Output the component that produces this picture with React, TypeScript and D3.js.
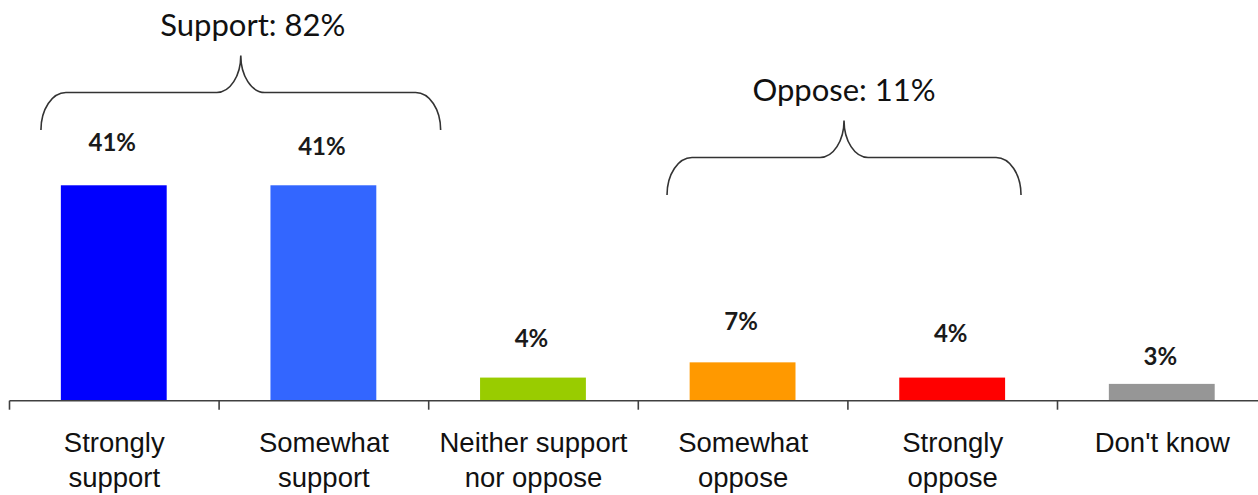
import React from "react";
import * as d3 from "d3";

const categoryLines: string[][] = [
  ["Strongly", "support"],
  ["Somewhat", "support"],
  ["Neither support", "nor oppose"],
  ["Somewhat", "oppose"],
  ["Strongly", "oppose"],
  ["Don't know"],
];
const categories = ["Strongly support", "Somewhat support", "Neither support nor oppose", "Somewhat oppose", "Strongly oppose", "Don't know"];
const values = [41, 41, 4.4, 7.3, 4.4, 3.2];
const valueLabels = ["41%", "41%", "4%", "7%", "4%", "3%"];
const barColors = ["#0000FF", "#3366FF", "#99CC00", "#FF9900", "#FF0000", "#969696"];

const groupLabels = ["Support: 82%", "Oppose: 11%"];
const groupFrom = [0.15, 3.137];
const groupTo = [2.057, 4.826];

// layout
const W = 1258;
const H = 495;
const baseY = 400.7;
const pxPerPct = 5.254;
const labelGap = [34, 30, 31, 32, 36, 19];
const braceTipY = [130, 195];
const braceTextDx = [12, 0];

export default function App() {
  const x = d3.scaleBand<string>().domain(categories).range([9.5, 9.5 + 6 * 209.6]).padding(0);
  const bw = x.bandwidth();
  const idx = d3.scaleLinear().domain([0, 6]).range([9.5, 9.5 + 6 * 209.6]);
  const y = d3.scaleLinear().domain([0, 50]).range([baseY, baseY - 50 * pxPerPct]);

  const bracePath = (x0: number, x1: number, yt: number) => {
    const depth = 37.5;
    const peakH = 37;
    const yh = yt - depth;
    const yp = yh - peakH;
    const xm = (x0 + x1) / 2;
    const rx = 25;
    const rm = 24;
    const k = 0.552;
    const p = d3.path();
    p.moveTo(x0, yt);
    p.bezierCurveTo(x0, yh + depth * (1 - k), x0 + rx * (1 - k), yh, x0 + rx, yh);
    p.lineTo(xm - rm, yh);
    p.bezierCurveTo(xm - rm + rm * k, yh, xm, yp + peakH * k, xm, yp);
    p.bezierCurveTo(xm, yp + peakH * k, xm + rm - rm * k, yh, xm + rm, yh);
    p.lineTo(x1 - rx, yh);
    p.bezierCurveTo(x1 - rx * (1 - k), yh, x1, yh + depth * (1 - k), x1, yt);
    return { d: p.toString(), xm, yp };
  };

  return (
    <svg width={W} height={H} style={{ position: "absolute", left: 0, top: 0, background: "#fff" }}>
      {categories.map((c, i) => (
        <rect key={c} x={x(c)! + bw * 0.245} y={y(values[i])} width={bw * 0.505} height={baseY - y(values[i])} fill={barColors[i]} />
      ))}
      {categories.map((c, i) => (
        <text
          key={"v" + c}
          x={x(c)! + bw / 2 - 2}
          y={y(values[i]) - labelGap[i]}
          textAnchor="middle"
          fontFamily="Lato"
          fontWeight="bold"
          fontSize={24}
          fill="#1a1a1a"
        >
          {valueLabels[i]}
        </text>
      ))}
      <line x1={9.5} x2={W + 20} y1={baseY} y2={baseY} stroke="#404040" strokeWidth={1.6} />
      {d3.range(7).map((i) => (
        <line key={"t" + i} x1={idx(i)} x2={idx(i)} y1={baseY} y2={baseY + 9} stroke="#404040" strokeWidth={1.6} />
      ))}
      {categories.map((c, i) => (
        <text key={"c" + c} textAnchor="middle" fontFamily="Liberation Sans, Arial" fontSize={27.5} fill="#111">
          {categoryLines[i].map((ln, j) => (
            <tspan key={j} x={x(c)! + bw / 2} y={452.3 + j * 34.5}>
              {ln}
            </tspan>
          ))}
        </text>
      ))}
      {groupLabels.map((g, i) => {
        const b = bracePath(idx(groupFrom[i]), idx(groupTo[i]), braceTipY[i]);
        return (
          <g key={g}>
            <path d={b.d} fill="none" stroke="#333" strokeWidth={1.6} />
            <text x={b.xm + braceTextDx[i]} y={b.yp - 20} textAnchor="middle" fontFamily="Lato" fontSize={31} fill="#111">
              {g}
            </text>
          </g>
        );
      })}
    </svg>
  );
}
